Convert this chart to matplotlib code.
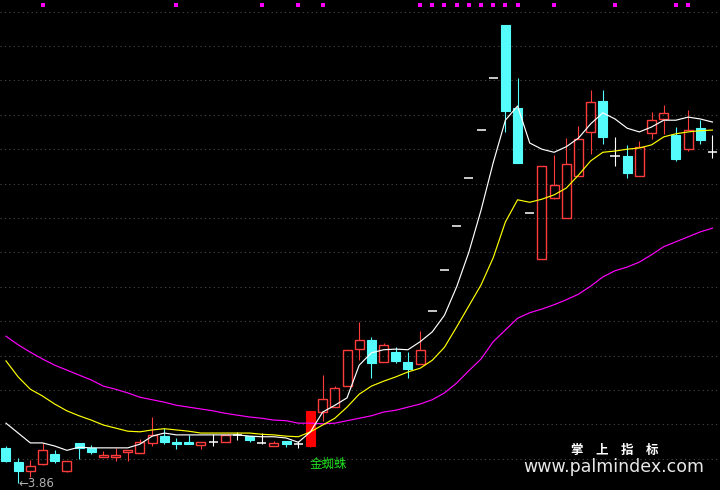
import matplotlib
matplotlib.use('Agg')
import matplotlib.pyplot as plt
from matplotlib.patches import Rectangle

# daily candles (price)
opens = [4.43, 4.20, 4.05, 4.17, 4.33, 4.05, 4.51, 4.43, 4.28, 4.28,
         4.36, 4.35, 4.51, 4.62, 4.52, 4.52, 4.48, 4.52, 4.52, 4.64,
         4.62, 4.51, 4.46, 4.54, 4.49, 4.46, 5.01, 5.09, 5.43, 6.03,
         6.18, 5.82, 5.98, 5.82, 5.79, 6.65, 7.31, 8.03, 8.80, 9.58,
         10.42, 11.28, 9.94, 8.24, 7.49, 8.48, 8.16, 8.84, 9.55, 10.05,
         9.16, 9.16, 8.84, 9.53, 9.76, 9.50, 9.27, 9.61, 9.22]
highs = [4.46, 4.27, 4.23, 4.51, 4.39, 4.22, 4.51, 4.48, 4.38, 4.43,
         4.39, 4.57, 4.93, 4.75, 4.59, 4.64, 4.52, 4.65, 4.64, 4.69,
         4.62, 4.67, 4.54, 4.54, 4.54, 5.03, 5.61, 5.43, 6.02, 6.47,
         6.23, 6.13, 6.06, 5.98, 6.32, 6.65, 7.31, 8.03, 8.80, 9.58,
         10.42, 11.28, 10.42, 8.24, 9.00, 9.18, 9.45, 9.65, 10.23, 10.23,
         9.47, 9.34, 9.40, 9.87, 9.99, 9.63, 9.91, 9.74, 9.50]
lows = [4.20, 3.86, 3.96, 4.15, 4.18, 4.04, 4.25, 4.33, 4.28, 4.22,
        4.22, 4.35, 4.46, 4.49, 4.41, 4.49, 4.41, 4.46, 4.52, 4.56,
        4.52, 4.49, 4.46, 4.44, 4.43, 4.44, 4.87, 5.09, 5.43, 5.85,
        5.56, 5.82, 5.81, 5.56, 5.79, 6.65, 7.31, 8.03, 8.80, 9.58,
        10.42, 9.55, 9.05, 8.24, 7.49, 8.46, 8.16, 8.84, 9.19, 9.35,
        9.00, 8.80, 8.84, 9.44, 9.52, 9.08, 9.24, 9.35, 9.13]
closes = [4.22, 4.05, 4.14, 4.39, 4.22, 4.22, 4.43, 4.36, 4.31, 4.31,
          4.39, 4.52, 4.64, 4.52, 4.49, 4.49, 4.52, 4.52, 4.64, 4.64,
          4.56, 4.51, 4.51, 4.49, 4.49, 5.03, 5.22, 5.40, 6.02, 6.18,
          5.81, 6.10, 5.84, 5.71, 6.02, 6.65, 7.31, 8.03, 8.80, 9.58,
          10.42, 9.89, 9.05, 8.24, 9.00, 8.69, 9.03, 9.44, 10.03, 9.47,
          9.16, 8.88, 9.31, 9.74, 9.86, 9.11, 9.58, 9.42, 9.22]

# moving average lines
ma_white = [4.83, 4.67, 4.51, 4.51, 4.46, 4.39, 4.44, 4.43, 4.43, 4.43,
            4.43, 4.49, 4.62, 4.67, 4.64, 4.64, 4.64, 4.64, 4.64, 4.64,
            4.62, 4.61, 4.61, 4.59, 4.52, 4.69, 5.01, 5.12, 5.24, 5.77,
            5.97, 6.02, 6.03, 6.02, 6.15, 6.31, 6.58, 7.04, 7.60, 8.28,
            9.05, 9.74, 9.97, 9.37, 9.27, 9.22, 9.31, 9.45, 9.68, 9.86,
            9.76, 9.61, 9.55, 9.63, 9.74, 9.74, 9.79, 9.76, 9.71]
ma_yellow = [5.84, 5.58, 5.38, 5.27, 5.14, 5.03, 4.95, 4.88, 4.80, 4.75,
             4.70, 4.69, 4.72, 4.74, 4.72, 4.70, 4.67, 4.67, 4.67, 4.67,
             4.67, 4.65, 4.64, 4.62, 4.61, 4.69, 4.80, 4.91, 5.09, 5.30,
             5.43, 5.51, 5.58, 5.66, 5.72, 5.85, 6.06, 6.39, 6.73, 7.07,
             7.51, 8.09, 8.45, 8.41, 8.46, 8.53, 8.64, 8.85, 9.08, 9.22,
             9.24, 9.27, 9.29, 9.34, 9.47, 9.52, 9.55, 9.57, 9.58]
ma_magenta = [6.24, 6.10, 5.98, 5.87, 5.77, 5.69, 5.61, 5.53, 5.43, 5.38,
              5.32, 5.25, 5.21, 5.17, 5.12, 5.09, 5.06, 5.03, 4.99, 4.96,
              4.93, 4.91, 4.88, 4.87, 4.83, 4.83, 4.82, 4.83, 4.87, 4.91,
              4.95, 5.01, 5.04, 5.09, 5.14, 5.21, 5.32, 5.48, 5.68, 5.87,
              6.15, 6.34, 6.53, 6.62, 6.68, 6.75, 6.83, 6.92, 7.05, 7.20,
              7.30, 7.36, 7.44, 7.56, 7.69, 7.77, 7.85, 7.93, 7.99]

dot_days = [3, 14, 21, 24, 26, 34, 35, 36, 37, 38, 39, 40, 41, 42, 45, 50, 55, 56]
dot_level = 11.61
signal_day = 25
low_day = 1
low_price = 3.86

RED = '#ff3c3c'
CYAN = '#54fcfc'

fig = plt.figure(figsize=(7.2, 4.9), dpi=100, facecolor='black')
ax = fig.add_axes([0, 0, 1, 1])
ax.set_facecolor('black')
ax.set_xlim(-0.49, 58.62)
ax.set_ylim(3.747, 11.688)
ax.axis('off')

# dotted horizontal grid
for k in range(14):
    f = 1 - (11.7 + 34.4 * k) / 490
    ax.plot([0, 1], [f, f], transform=ax.transAxes, color='#4a4a4a',
            lw=0.8, ls=(0, (1, 3)), zorder=0)

w = 0.74
for i, (o, h, l, c) in enumerate(zip(opens, highs, lows, closes)):
    if i == signal_day:
        ax.vlines(i, l, h, color='#ff0000', lw=0.8, zorder=2)
        ax.add_patch(Rectangle((i - w / 2, o), w, c - o, facecolor='#ff0000',
                               edgecolor='#ff0000', lw=0.8, zorder=2))
    elif c > o:
        ax.vlines(i, c, h, color=RED, lw=0.8, zorder=2)
        ax.vlines(i, l, o, color=RED, lw=0.8, zorder=2)
        ax.add_patch(Rectangle((i - w / 2, o), w, c - o, facecolor='none',
                               edgecolor=RED, lw=1.0, zorder=2))
    elif c < o:
        ax.vlines(i, l, h, color=CYAN, lw=0.8, zorder=2)
        ax.add_patch(Rectangle((i - w / 2, c), w, o - c, facecolor=CYAN,
                               edgecolor=CYAN, lw=0.8, zorder=2))
    else:
        if h > l:
            ax.vlines(i, l, h, color='white', lw=0.8, zorder=2)
        ax.hlines(c, i - w / 2, i + w / 2, color='white', lw=1.1, zorder=2)

days = range(len(closes))
ax.plot(days, ma_magenta, color='#ff00ff', lw=0.85, zorder=3)
ax.plot(days, ma_yellow, color='#ffff00', lw=0.85, zorder=3)
ax.plot(days, ma_white, color='white', lw=0.85, zorder=3)

ax.scatter(dot_days, [dot_level] * len(dot_days), marker='s', s=5,
           color='#ff00ff', linewidths=0, zorder=3)

cjk = ['Noto Sans CJK SC', 'DejaVu Sans']
ax.text(signal_day - 0.05, 4.17, '金蜘蛛', color='#20e020', fontsize=9,
        family=cjk, ha='left', va='center', zorder=4)
ax.text(low_day, low_price, '←' + f'{low_price:.2f}', color='#b0b0b0',
        fontsize=8.5, ha='left', va='center', zorder=4)

fig.text(0.854, 0.080, '掌　上　指　标', color='white', fontsize=9,
         family=cjk, fontweight='bold', ha='center', va='center')
fig.text(0.853, 0.047, 'www.palmindex.com', color='#e8e8e8', fontsize=12.5,
         ha='center', va='center')

fig.savefig('out.png', dpi=100, facecolor='black')
